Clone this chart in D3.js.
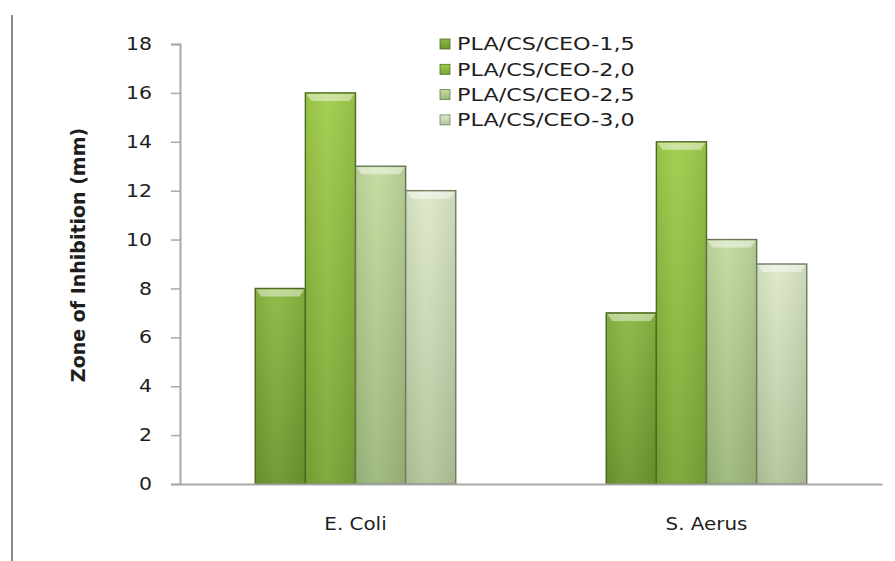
<!DOCTYPE html>
<html>
<head>
<meta charset="utf-8">
<script src="https://cdn.jsdelivr.net/npm/d3@7"></script>
<style>
  html, body { margin: 0; padding: 0; background: #fff; }
  svg { display: block; }
  text { font-family: "DejaVu Sans", "Open Sans", sans-serif; fill: #1e1e1e; }
</style>
</head>
<body>
<svg id="chart" width="895" height="561"></svg>
<script>
// Data
const categories = ["E. Coli", "S. Aerus"];
const seriesNames = ["PLA/CS/CEO-1,5", "PLA/CS/CEO-2,0", "PLA/CS/CEO-2,5", "PLA/CS/CEO-3,0"];
const eColiValues = [8, 16, 13, 12];
const sAerusValues = [7, 14, 10, 9];
const yTicks = [0, 2, 4, 6, 8, 10, 12, 14, 16, 18];

// Per-series fill: top colour, bottom colour, edge colour
const seriesColors = [
  { top: "#8cb843", bottom: "#6e962e", edge: "#4a6a20" },
  { top: "#a0cd4b", bottom: "#7aa535", edge: "#506f22" },
  { top: "#c3da9e", bottom: "#9cb87b", edge: "#66794f" },
  { top: "#dde9c9", bottom: "#b3c59b", edge: "#737f63" }
];

const valuesByCategory = [eColiValues, sAerusValues];

const svg = d3.select("#chart");
const margin = { left: 180, right: 13, top: 44, bottom: 77 };
const W = 895, H = 561;
const SX = 1.17; // horizontal stretch of the lettering
const SXL = 1.24; // stretch for legend lettering

const x0 = d3.scaleBand().domain(categories).range([margin.left, W - margin.right]);
const x1 = d3.scaleBand().domain(d3.range(seriesNames.length))
  .range([0, x0.bandwidth()]).paddingInner(0).paddingOuter(1.5);
const y = d3.scaleLinear().domain([0, 18]).range([H - margin.bottom, margin.top]);

// Gradients
const defs = svg.append("defs");
seriesColors.forEach((c, i) => {
  const g = defs.append("linearGradient").attr("id", "grad" + i)
    .attr("x1", 0).attr("y1", 0).attr("x2", 0).attr("y2", 1);
  g.append("stop").attr("offset", "0%").attr("stop-color", c.top);
  g.append("stop").attr("offset", "100%").attr("stop-color", c.bottom);
  const h = defs.append("linearGradient").attr("id", "shade" + i)
    .attr("x1", 0).attr("y1", 0).attr("x2", 1).attr("y2", 0);
  h.append("stop").attr("offset", "0%").attr("stop-color", "#000").attr("stop-opacity", 0.06);
  h.append("stop").attr("offset", "40%").attr("stop-color", "#fff").attr("stop-opacity", 0.05);
  h.append("stop").attr("offset", "100%").attr("stop-color", "#000").attr("stop-opacity", 0.08);
});

// Outer frame line on the left
svg.append("line").attr("x1", 12).attr("x2", 12).attr("y1", 15).attr("y2", H)
  .attr("stroke", "#8a8a8a").attr("stroke-width", 2);

// Bars
const groups = svg.selectAll("g.cat").data(categories).join("g")
  .attr("class", "cat").attr("transform", d => `translate(${x0(d)},0)`);

groups.each(function (cat, ci) {
  const g = d3.select(this);
  valuesByCategory[ci].forEach((v, si) => {
    const bx = x1(si), bw = x1.bandwidth();
    const by = y(v), bh = y(0) - y(v);
    g.append("rect").attr("x", bx).attr("y", by).attr("width", bw).attr("height", bh)
      .attr("fill", `url(#grad${si})`)
      .attr("stroke", seriesColors[si].edge).attr("stroke-width", 1.4);
    g.append("rect").attr("x", bx).attr("y", by).attr("width", bw).attr("height", bh)
      .attr("fill", `url(#shade${si})`);
    // top bevel highlight
    const bev = 6;
    g.append("path")
      .attr("d", `M${bx + 1},${by + 1} L${bx + bw - 1},${by + 1} L${bx + bw - bev},${by + bev + 2} L${bx + bev},${by + bev + 2} Z`)
      .attr("fill", "#ffffff").attr("opacity", 0.45);
  });
});

// Y axis
const tickPad = 19;
const yAxis = d3.axisLeft(y).tickValues(yTicks).tickSize(9).tickPadding(tickPad).tickFormat(d3.format("d"));
const ya = svg.append("g").attr("transform", `translate(${margin.left},0)`).call(yAxis);
ya.select(".domain").attr("stroke", "#a8a8a8").attr("stroke-width", 2);
ya.selectAll(".tick line").attr("stroke", "#a8a8a8").attr("stroke-width", 1.5);
ya.selectAll(".tick text").attr("font-size", 17.5).attr("fill", "#1e1e1e")
  .style("font-family", "'DejaVu Sans', sans-serif")
  .attr("x", -(tickPad + 9) / SX)
  .attr("transform", `scale(${SX},1)`);

// X axis
const xa = svg.append("g").attr("transform", `translate(0,${y(0)})`)
  .call(d3.axisBottom(x0).tickSize(0).tickPadding(34));
xa.select(".domain").attr("stroke", "#a8a8a8").attr("stroke-width", 2);
xa.selectAll(".tick text").attr("font-size", 17).attr("fill", "#1e1e1e")
  .style("font-family", "'DejaVu Sans', sans-serif")
  .attr("transform", `scale(${SX},1)`);

// Y axis title
svg.append("text")
  .attr("transform", `translate(85,255) rotate(-90)`)
  .attr("text-anchor", "middle").attr("font-size", 19).attr("font-weight", "bold")
  .text("Zone of Inhibition (mm)");

// Legend
const legend = svg.append("g").attr("transform", "translate(440,44)");
seriesNames.forEach((name, i) => {
  const row = legend.append("g").attr("transform", `translate(0,${i * 25.3})`);
  row.append("rect").attr("x", 0).attr("y", -5).attr("width", 10).attr("height", 10)
    .attr("fill", `url(#grad${i})`).attr("stroke", seriesColors[i].edge).attr("stroke-width", 0.8);
  row.append("text").attr("x", 17 / SXL).attr("y", 0).attr("dy", "0.35em")
    .attr("transform", `scale(${SXL},1)`)
    .attr("font-size", 18).text(name);
});
</script>
</body>
</html>
